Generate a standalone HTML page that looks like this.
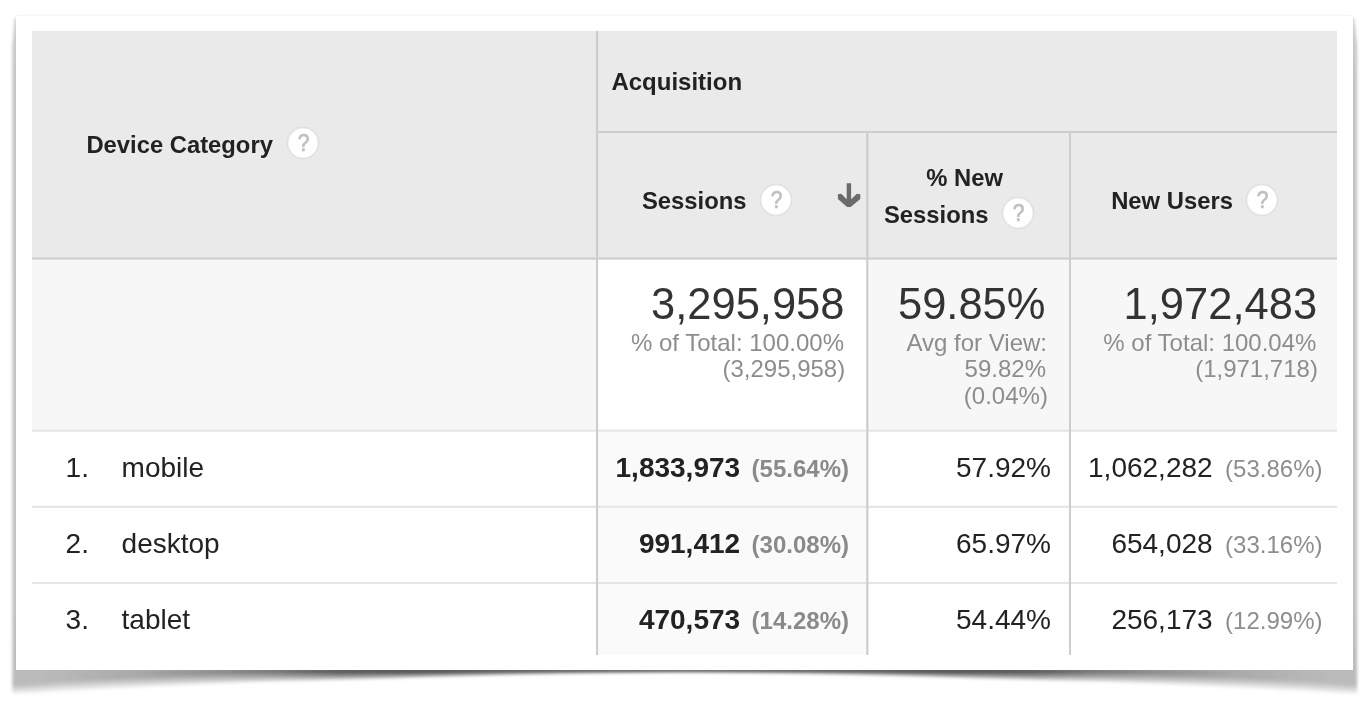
<!DOCTYPE html>
<html><head><meta charset="utf-8"><title>Device Category</title>
<style>
html,body{margin:0;padding:0;background:#fff}
body{width:1370px;height:712px;position:relative;overflow:hidden;font-family:"Liberation Sans",sans-serif}
.a{position:absolute;display:block}
.t{position:absolute;white-space:nowrap;line-height:1;font-family:"Liberation Sans",sans-serif}
#txt{position:absolute;left:0;top:0;width:1370px;height:712px;filter:grayscale(1)}
#card{position:absolute;left:16px;top:16px;width:1337px;height:654px;background:#fff;box-shadow:none}
</style></head><body>
<svg class="a" style="left:0;top:0" width="1370" height="712" viewBox="0 0 1370 712">
<defs>
<filter id="hb" x="-20%" y="-20%" width="140%" height="140%"><feGaussianBlur stdDeviation="0.6"/></filter>
<filter id="hc" x="-20%" y="-20%" width="140%" height="140%"><feGaussianBlur stdDeviation="0.45"/></filter>
<filter id="b" x="-5%" y="-5%" width="110%" height="110%"><feGaussianBlur stdDeviation="1.45"/></filter>
<linearGradient id="g" gradientUnits="userSpaceOnUse" x1="12.4" x2="1357.1" y1="0" y2="0"><stop offset="0.0000" stop-color="#000" stop-opacity="0.0386"/><stop offset="0.0205" stop-color="#000" stop-opacity="0.0386"/><stop offset="0.0354" stop-color="#000" stop-opacity="0.0402"/><stop offset="0.0949" stop-color="#000" stop-opacity="0.0506"/><stop offset="0.1544" stop-color="#000" stop-opacity="0.0720"/><stop offset="0.1990" stop-color="#000" stop-opacity="0.1028"/><stop offset="0.2436" stop-color="#000" stop-opacity="0.1397"/><stop offset="0.3031" stop-color="#000" stop-opacity="0.1550"/><stop offset="0.3626" stop-color="#000" stop-opacity="0.1471"/><stop offset="0.4370" stop-color="#000" stop-opacity="0.1471"/><stop offset="0.5000" stop-color="#000" stop-opacity="0.1471"/><stop offset="0.5630" stop-color="#000" stop-opacity="0.1471"/><stop offset="0.6374" stop-color="#000" stop-opacity="0.1471"/><stop offset="0.6969" stop-color="#000" stop-opacity="0.1550"/><stop offset="0.7564" stop-color="#000" stop-opacity="0.1397"/><stop offset="0.8010" stop-color="#000" stop-opacity="0.1028"/><stop offset="0.8456" stop-color="#000" stop-opacity="0.0720"/><stop offset="0.9051" stop-color="#000" stop-opacity="0.0506"/><stop offset="0.9646" stop-color="#000" stop-opacity="0.0402"/><stop offset="0.9795" stop-color="#000" stop-opacity="0.0386"/><stop offset="1.0000" stop-color="#000" stop-opacity="0.0386"/></linearGradient>
<linearGradient id="sv" gradientUnits="userSpaceOnUse" x1="0" x2="0" y1="16" y2="669"><stop offset="0" stop-color="#000" stop-opacity="0.2"/><stop offset="0.1" stop-color="#000" stop-opacity="0.235"/><stop offset="0.9" stop-color="#000" stop-opacity="0.245"/><stop offset="1" stop-color="#000" stop-opacity="0.27"/></linearGradient>
<clipPath id="c"><rect x="0" y="669" width="1370" height="43"/></clipPath>
</defs>
<g filter="url(#b)">
<path d="M16.6 16.8L14.6 20L12.4 46V669H1357.1V46L1354.4 20L1352.4 16.8Z" fill="url(#sv)"/>
<g clip-path="url(#c)" fill="url(#g)">
<path d="M12.4 668L12.4 685.2L36.4 683.7L60.4 681.5L84.4 680.0L108.4 678.8L132.4 677.6L156.4 676.4L180.4 675.1L204.4 673.9L228.4 672.9L252.4 671.8L276.4 671.1L300.4 671.0L324.4 670.9L348.4 670.8L372.4 670.8L396.4 670.8L420.4 670.7L444.4 670.7L468.4 670.6L492.4 670.6L516.4 670.5L540.4 670.5L564.4 670.5L588.4 670.4L612.4 670.4L636.4 670.4L660.4 670.4L684.4 670.4L684.8 670.4L685.1 670.4L709.1 670.4L733.1 670.4L757.1 670.4L781.1 670.4L805.1 670.5L829.1 670.5L853.1 670.5L877.1 670.6L901.1 670.6L925.1 670.7L949.1 670.7L973.1 670.8L997.1 670.8L1021.1 670.8L1045.1 670.9L1069.1 671.0L1093.1 671.1L1117.1 671.8L1141.1 672.9L1165.1 673.9L1189.1 675.1L1213.1 676.4L1237.1 677.6L1261.1 678.8L1285.1 680.0L1309.1 681.5L1333.1 683.7L1357.1 685.2L1357.1 668Z"/>
<path d="M12.4 668L12.4 686.5L36.4 685.0L60.4 683.0L84.4 681.5L108.4 680.2L132.4 679.1L156.4 677.8L180.4 676.6L204.4 675.5L228.4 674.4L252.4 673.3L276.4 672.6L300.4 672.4L324.4 672.3L348.4 672.1L372.4 672.0L396.4 671.9L420.4 671.7L444.4 671.6L468.4 671.4L492.4 671.3L516.4 671.2L540.4 671.1L564.4 671.0L588.4 670.9L612.4 670.9L636.4 670.8L660.4 670.8L684.4 670.8L684.8 670.8L685.1 670.8L709.1 670.8L733.1 670.8L757.1 670.9L781.1 670.9L805.1 671.0L829.1 671.1L853.1 671.2L877.1 671.3L901.1 671.4L925.1 671.6L949.1 671.7L973.1 671.9L997.1 672.0L1021.1 672.1L1045.1 672.3L1069.1 672.4L1093.1 672.6L1117.1 673.3L1141.1 674.4L1165.1 675.5L1189.1 676.6L1213.1 677.8L1237.1 679.1L1261.1 680.2L1285.1 681.5L1309.1 683.0L1333.1 685.0L1357.1 686.5L1357.1 668Z"/>
<path d="M12.4 668L12.4 687.8L36.4 686.4L60.4 684.4L84.4 683.0L108.4 681.7L132.4 680.5L156.4 679.3L180.4 678.1L204.4 677.0L228.4 675.9L252.4 674.9L276.4 674.2L300.4 673.9L324.4 673.7L348.4 673.4L372.4 673.2L396.4 673.0L420.4 672.7L444.4 672.5L468.4 672.2L492.4 672.0L516.4 671.8L540.4 671.7L564.4 671.5L588.4 671.4L612.4 671.3L636.4 671.2L660.4 671.2L684.4 671.1L684.8 671.1L685.1 671.1L709.1 671.2L733.1 671.2L757.1 671.3L781.1 671.4L805.1 671.5L829.1 671.7L853.1 671.8L877.1 672.0L901.1 672.2L925.1 672.5L949.1 672.7L973.1 673.0L997.1 673.2L1021.1 673.4L1045.1 673.7L1069.1 673.9L1093.1 674.2L1117.1 674.9L1141.1 675.9L1165.1 677.0L1189.1 678.1L1213.1 679.3L1237.1 680.5L1261.1 681.7L1285.1 683.0L1309.1 684.4L1333.1 686.4L1357.1 687.8L1357.1 668Z"/>
<path d="M12.4 668L12.4 689.1L36.4 687.8L60.4 685.9L84.4 684.4L108.4 683.2L132.4 682.0L156.4 680.8L180.4 679.6L204.4 678.5L228.4 677.4L252.4 676.4L276.4 675.7L300.4 675.3L324.4 675.0L348.4 674.7L372.4 674.4L396.4 674.1L420.4 673.7L444.4 673.4L468.4 673.0L492.4 672.7L516.4 672.5L540.4 672.3L564.4 672.0L588.4 671.9L612.4 671.8L636.4 671.7L660.4 671.6L684.4 671.5L684.8 671.5L685.1 671.5L709.1 671.6L733.1 671.7L757.1 671.8L781.1 671.9L805.1 672.0L829.1 672.3L853.1 672.5L877.1 672.7L901.1 673.0L925.1 673.4L949.1 673.7L973.1 674.1L997.1 674.4L1021.1 674.7L1045.1 675.0L1069.1 675.3L1093.1 675.7L1117.1 676.4L1141.1 677.4L1165.1 678.5L1189.1 679.6L1213.1 680.8L1237.1 682.0L1261.1 683.2L1285.1 684.4L1309.1 685.9L1333.1 687.8L1357.1 689.1L1357.1 668Z"/>
<path d="M12.4 668L12.4 690.4L36.4 689.2L60.4 687.4L84.4 685.9L108.4 684.6L132.4 683.5L156.4 682.3L180.4 681.1L204.4 680.0L228.4 679.0L252.4 678.0L276.4 677.2L300.4 676.8L324.4 676.4L348.4 676.0L372.4 675.6L396.4 675.2L420.4 674.7L444.4 674.3L468.4 673.9L492.4 673.5L516.4 673.1L540.4 672.8L564.4 672.6L588.4 672.4L612.4 672.2L636.4 672.1L660.4 672.0L684.4 671.9L684.8 671.9L685.1 671.9L709.1 672.0L733.1 672.1L757.1 672.2L781.1 672.4L805.1 672.6L829.1 672.8L853.1 673.1L877.1 673.5L901.1 673.9L925.1 674.3L949.1 674.7L973.1 675.2L997.1 675.6L1021.1 676.0L1045.1 676.4L1069.1 676.8L1093.1 677.2L1117.1 678.0L1141.1 679.0L1165.1 680.0L1189.1 681.1L1213.1 682.3L1237.1 683.5L1261.1 684.6L1285.1 685.9L1309.1 687.4L1333.1 689.2L1357.1 690.4L1357.1 668Z"/>
<path d="M12.4 668L12.4 691.7L36.4 690.5L60.4 688.8L84.4 687.4L108.4 686.1L132.4 684.9L156.4 683.7L180.4 682.6L204.4 681.5L228.4 680.5L252.4 679.5L276.4 678.8L300.4 678.3L324.4 677.8L348.4 677.3L372.4 676.8L396.4 676.3L420.4 675.8L444.4 675.2L468.4 674.7L492.4 674.2L516.4 673.8L540.4 673.4L564.4 673.1L588.4 672.8L612.4 672.6L636.4 672.5L660.4 672.3L684.4 672.3L684.8 672.3L685.1 672.3L709.1 672.3L733.1 672.5L757.1 672.6L781.1 672.8L805.1 673.1L829.1 673.4L853.1 673.8L877.1 674.2L901.1 674.7L925.1 675.2L949.1 675.8L973.1 676.3L997.1 676.8L1021.1 677.3L1045.1 677.8L1069.1 678.3L1093.1 678.8L1117.1 679.5L1141.1 680.5L1165.1 681.5L1189.1 682.6L1213.1 683.7L1237.1 684.9L1261.1 686.1L1285.1 687.4L1309.1 688.8L1333.1 690.5L1357.1 691.7L1357.1 668Z"/>
<path d="M12.4 668L12.4 693.0L36.4 691.9L60.4 690.3L84.4 688.9L108.4 687.6L132.4 686.4L156.4 685.2L180.4 684.1L204.4 683.0L228.4 682.0L252.4 681.1L276.4 680.3L300.4 679.7L324.4 679.2L348.4 678.6L372.4 678.0L396.4 677.4L420.4 676.8L444.4 676.1L468.4 675.5L492.4 674.9L516.4 674.4L540.4 674.0L564.4 673.6L588.4 673.3L612.4 673.1L636.4 672.9L660.4 672.7L684.4 672.6L684.8 672.6L685.1 672.6L709.1 672.7L733.1 672.9L757.1 673.1L781.1 673.3L805.1 673.6L829.1 674.0L853.1 674.4L877.1 674.9L901.1 675.5L925.1 676.1L949.1 676.8L973.1 677.4L997.1 678.0L1021.1 678.6L1045.1 679.2L1069.1 679.7L1093.1 680.3L1117.1 681.1L1141.1 682.0L1165.1 683.0L1189.1 684.1L1213.1 685.2L1237.1 686.4L1261.1 687.6L1285.1 688.9L1309.1 690.3L1333.1 691.9L1357.1 693.0L1357.1 668Z"/>
<path d="M12.4 668L12.4 694.3L36.4 693.3L60.4 691.7L84.4 690.4L108.4 689.1L132.4 687.8L156.4 686.7L180.4 685.5L204.4 684.5L228.4 683.5L252.4 682.6L276.4 681.8L300.4 681.2L324.4 680.6L348.4 679.9L372.4 679.2L396.4 678.5L420.4 677.8L444.4 677.0L468.4 676.3L492.4 675.6L516.4 675.1L540.4 674.6L564.4 674.2L588.4 673.8L612.4 673.5L636.4 673.3L660.4 673.1L684.4 673.0L684.8 673.0L685.1 673.0L709.1 673.1L733.1 673.3L757.1 673.5L781.1 673.8L805.1 674.2L829.1 674.6L853.1 675.1L877.1 675.6L901.1 676.3L925.1 677.0L949.1 677.8L973.1 678.5L997.1 679.2L1021.1 679.9L1045.1 680.6L1069.1 681.2L1093.1 681.8L1117.1 682.6L1141.1 683.5L1165.1 684.5L1189.1 685.5L1213.1 686.7L1237.1 687.8L1261.1 689.1L1285.1 690.4L1309.1 691.7L1333.1 693.3L1357.1 694.3L1357.1 668Z"/>
</g>
</g>
</svg>
<div id="card"></div>
<div class="a" style="left:32px;top:31px;width:1305px;height:227px;background:#eaeaea"></div>
<div class="a" style="left:32px;top:259px;width:1305px;height:172px;background:#f7f7f7"></div>
<div class="a" style="left:598px;top:259px;width:268px;height:172px;background:#ffffff"></div>
<div class="a" style="left:598px;top:431px;width:268px;height:224px;background:#fafafa"></div>
<div class="a" style="left:598px;top:131px;width:739px;height:1px;background:#cdcdcd"></div>
<div class="a" style="left:598px;top:132px;width:739px;height:1px;background:#cdcdcd"></div>
<div class="a" style="left:32px;top:257px;width:1305px;height:1px;background:rgba(205,205,205,0.50)"></div>
<div class="a" style="left:32px;top:258px;width:1305px;height:1px;background:#cdcdcd"></div>
<div class="a" style="left:32px;top:259px;width:1305px;height:1px;background:rgba(205,205,205,0.60)"></div>
<div class="a" style="left:32px;top:429px;width:1305px;height:1px;background:rgba(229,229,229,0.30)"></div>
<div class="a" style="left:32px;top:430px;width:1305px;height:1px;background:#e5e5e5"></div>
<div class="a" style="left:32px;top:431px;width:1305px;height:1px;background:rgba(229,229,229,0.70)"></div>
<div class="a" style="left:32px;top:505px;width:1305px;height:1px;background:rgba(229,229,229,0.20)"></div>
<div class="a" style="left:32px;top:506px;width:1305px;height:1px;background:#e5e5e5"></div>
<div class="a" style="left:32px;top:507px;width:1305px;height:1px;background:rgba(229,229,229,0.90)"></div>
<div class="a" style="left:32px;top:582px;width:1305px;height:1px;background:#e5e5e5"></div>
<div class="a" style="left:32px;top:583px;width:1305px;height:1px;background:#e5e5e5"></div>
<div class="a" style="left:596px;top:31px;width:1px;height:624px;background:#cdcdcd"></div>
<div class="a" style="left:597px;top:31px;width:1px;height:624px;background:#cdcdcd"></div>
<div class="a" style="left:598px;top:31px;width:1px;height:624px;background:rgba(205,205,205,0.10)"></div>
<div class="a" style="left:866px;top:132px;width:1px;height:523px;background:rgba(205,205,205,0.80)"></div>
<div class="a" style="left:867px;top:132px;width:1px;height:523px;background:#cdcdcd"></div>
<div class="a" style="left:868px;top:132px;width:1px;height:523px;background:rgba(205,205,205,0.40)"></div>
<div class="a" style="left:1069px;top:132px;width:1px;height:523px;background:#cdcdcd"></div>
<div class="a" style="left:1070px;top:132px;width:1px;height:523px;background:#cdcdcd"></div>
<div id="txt">
<svg class="a" style="left:283.2px;top:123.1px" width="40" height="40" viewBox="0 0 40 40"><circle cx="20" cy="20" r="16" fill="none" stroke="#dcdcdc" stroke-width="0.9" filter="url(#hb)"/><circle cx="20" cy="20" r="14.5" fill="#fff" filter="url(#hb)"/><text transform="translate(20.5 28.1) scale(0.9 1)" text-anchor="middle" font-family="Liberation Sans, sans-serif" font-size="23.3" fill="#c0c0c0" stroke="#c0c0c0" stroke-width="0.75" filter="url(#hc)">?</text></svg>
<svg class="a" style="left:756.1px;top:179.9px" width="40" height="40" viewBox="0 0 40 40"><circle cx="20" cy="20" r="16" fill="none" stroke="#dcdcdc" stroke-width="0.9" filter="url(#hb)"/><circle cx="20" cy="20" r="14.5" fill="#fff" filter="url(#hb)"/><text transform="translate(20.5 28.1) scale(0.9 1)" text-anchor="middle" font-family="Liberation Sans, sans-serif" font-size="23.3" fill="#c0c0c0" stroke="#c0c0c0" stroke-width="0.75" filter="url(#hc)">?</text></svg>
<svg class="a" style="left:997.8px;top:192.8px" width="40" height="40" viewBox="0 0 40 40"><circle cx="20" cy="20" r="16" fill="none" stroke="#dcdcdc" stroke-width="0.9" filter="url(#hb)"/><circle cx="20" cy="20" r="14.5" fill="#fff" filter="url(#hb)"/><text transform="translate(20.5 28.1) scale(0.9 1)" text-anchor="middle" font-family="Liberation Sans, sans-serif" font-size="23.3" fill="#c0c0c0" stroke="#c0c0c0" stroke-width="0.75" filter="url(#hc)">?</text></svg>
<svg class="a" style="left:1241.9px;top:179.8px" width="40" height="40" viewBox="0 0 40 40"><circle cx="20" cy="20" r="16" fill="none" stroke="#dcdcdc" stroke-width="0.9" filter="url(#hb)"/><circle cx="20" cy="20" r="14.5" fill="#fff" filter="url(#hb)"/><text transform="translate(20.5 28.1) scale(0.9 1)" text-anchor="middle" font-family="Liberation Sans, sans-serif" font-size="23.3" fill="#c0c0c0" stroke="#c0c0c0" stroke-width="0.75" filter="url(#hc)">?</text></svg>
<svg class="a" style="left:834px;top:180px" width="30" height="32" viewBox="834 180 30 32"><path fill="#6b6b6b" d="M846.7 183.2H851.1V199.3L856.9 193.8L860.3 194.2V199.1L850.7 207.1H847.1L837.9 199.1V194.2L841.3 193.8L846.7 199.3Z"/></svg>
<div class="t" style="left:86.4px;top:133px;font-size:23.8px;font-weight:bold;color:#222">Device Category</div>
<div class="t" style="left:611.4px;top:70px;font-size:24px;font-weight:bold;color:#222">Acquisition</div>
<div class="t" style="left:642.0px;top:189px;font-size:23.8px;font-weight:bold;color:#222">Sessions</div>
<div class="t" style="left:926.2px;top:166px;font-size:23.8px;font-weight:bold;color:#222">% New</div>
<div class="t" style="left:884.0px;top:203px;font-size:23.8px;font-weight:bold;color:#222">Sessions</div>
<div class="t" style="left:1111.2px;top:189px;font-size:23.8px;font-weight:bold;color:#222">New Users</div>
<div class="t" style="right:525.5px;top:283px;font-size:43.5px;color:#333">3,295,958</div>
<div class="t" style="right:526.0px;top:331px;font-size:24px;color:#8d8d8d">% of Total: 100.00%</div>
<div class="t" style="right:524.8px;top:357px;font-size:24px;color:#8d8d8d">(3,295,958)</div>
<div class="t" style="right:324.5px;top:283px;font-size:43.5px;color:#333">59.85%</div>
<div class="t" style="right:323.0px;top:331px;font-size:24px;color:#8d8d8d">Avg for View:</div>
<div class="t" style="right:324.0px;top:357px;font-size:24px;color:#8d8d8d">59.82%</div>
<div class="t" style="right:322.1px;top:384px;font-size:24px;color:#8d8d8d">(0.04%)</div>
<div class="t" style="right:52.9px;top:283px;font-size:43.5px;color:#333">1,972,483</div>
<div class="t" style="right:53.6px;top:331px;font-size:24px;color:#8d8d8d">% of Total: 100.04%</div>
<div class="t" style="right:52.1px;top:357px;font-size:24px;color:#8d8d8d">(1,971,718)</div>
<div class="t" style="left:65.6px;top:454px;font-size:28px;color:#222">1.</div>
<div class="t" style="left:121.6px;top:454px;font-size:28px;color:#222">mobile</div>
<div class="t" style="right:521.0px;top:454px;font-size:28px;font-weight:bold;color:#222">1,833,973<span style="font-size:24px;color:#8a8a8a;margin-left:11.5px">(55.64%)</span></div>
<div class="t" style="right:319.0px;top:454px;font-size:28px;color:#222">57.92%</div>
<div class="t" style="right:47.5px;top:454px;font-size:28px;color:#222">1,062,282<span style="font-size:24px;color:#8d8d8d;margin-left:12.5px">(53.86%)</span></div>
<div class="t" style="left:65.6px;top:530px;font-size:28px;color:#222">2.</div>
<div class="t" style="left:121.6px;top:530px;font-size:28px;color:#222">desktop</div>
<div class="t" style="right:521.0px;top:530px;font-size:28px;font-weight:bold;color:#222">991,412<span style="font-size:24px;color:#8a8a8a;margin-left:11.5px">(30.08%)</span></div>
<div class="t" style="right:319.0px;top:530px;font-size:28px;color:#222">65.97%</div>
<div class="t" style="right:47.5px;top:530px;font-size:28px;color:#222">654,028<span style="font-size:24px;color:#8d8d8d;margin-left:12.5px">(33.16%)</span></div>
<div class="t" style="left:65.6px;top:606px;font-size:28px;color:#222">3.</div>
<div class="t" style="left:121.6px;top:606px;font-size:28px;color:#222">tablet</div>
<div class="t" style="right:521.0px;top:606px;font-size:28px;font-weight:bold;color:#222">470,573<span style="font-size:24px;color:#8a8a8a;margin-left:11.5px">(14.28%)</span></div>
<div class="t" style="right:319.0px;top:606px;font-size:28px;color:#222">54.44%</div>
<div class="t" style="right:47.5px;top:606px;font-size:28px;color:#222">256,173<span style="font-size:24px;color:#8d8d8d;margin-left:12.5px">(12.99%)</span></div>
</div>
</body></html>
